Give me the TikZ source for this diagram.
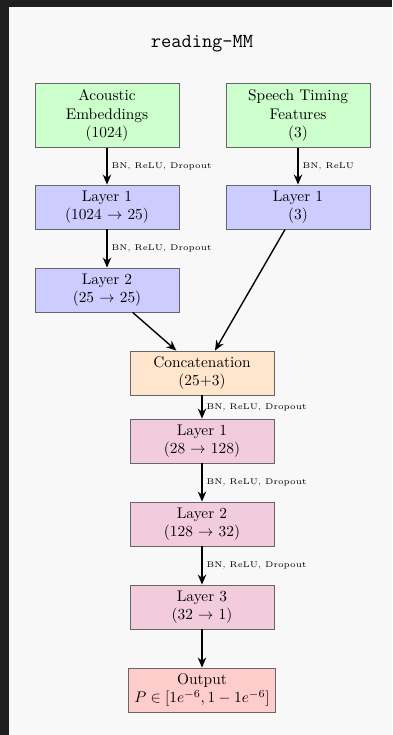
\documentclass[tikz,border=0pt]{standalone}
\usetikzlibrary{arrows.meta}
\definecolor{frame}{HTML}{1E1E1E}
\definecolor{paper}{HTML}{F8F8F8}
\definecolor{cgreen}{HTML}{CCFFCC}
\definecolor{cblue}{HTML}{CCCCFF}
\definecolor{corange}{HTML}{FFE5CC}
\definecolor{cpink}{HTML}{F2CCDD}
\definecolor{cred}{HTML}{FFCCCC}
\tikzset{
  box/.style={draw=black!60, line width=0.6pt, rectangle, align=center,
    minimum width=93.6pt, minimum height=28.6pt, inner xsep=4pt, inner ysep=2pt},
  tallbox/.style={box, minimum height=41pt},
  conn/.style={-{Stealth[length=6.5pt,width=5.5pt]}, line width=0.9pt, black},
  lbl/.style={font=\fontsize{5.4}{6}\selectfont, anchor=west, inner sep=0pt, xshift=2.5pt}
}
\begin{document}
\begin{tikzpicture}[x=0.65pt,y=-0.65pt]
\fill[frame] (0,0) rectangle (392,735);
\fill[paper] (9,7) rectangle (392,735);
\useasboundingbox (0,0) rectangle (392,735);

\node (title) at (202,44) {\fontsize{12.9}{15}\selectfont\ttfamily reading-MM};

\node[tallbox, fill=cgreen] (ac) at (107,115.5) {Acoustic\\Embeddings\\(1024)};
\node[tallbox, fill=cgreen] (st) at (298,115.5) {Speech Timing\\Features\\(3)};
\node[box, fill=cblue] (l1a) at (107,207) {Layer 1\\(1024 $\rightarrow$ 25)};
\node[box, fill=cblue] (l1b) at (298,207) {Layer 1\\(3)};
\node[box, fill=cblue] (l2a) at (107,290) {Layer 2\\(25 $\rightarrow$ 25)};
\node[box, fill=corange] (cc) at (202,373) {Concatenation\\(25+3)};
\node[box, fill=cpink] (m1) at (202,441) {Layer 1\\(28 $\rightarrow$ 128)};
\node[box, fill=cpink] (m2) at (202,524) {Layer 2\\(128 $\rightarrow$ 32)};
\node[box, fill=cpink] (m3) at (202,607) {Layer 3\\(32 $\rightarrow$ 1)};
\node[box, fill=cred] (out) at (202,690) {Output\\$P \in [1e^{-6}, 1-1e^{-6}]$};

\draw[conn] (ac) -- node[lbl] {BN, ReLU, Dropout} (l1a);
\draw[conn] (st) -- node[lbl] {BN, ReLU} (l1b);
\draw[conn] (l1a) -- node[lbl] {BN, ReLU, Dropout} (l2a);
\draw[conn] (l2a) -- (cc);
\draw[conn] (l1b) -- (cc);
\draw[conn] (cc) -- node[lbl] {BN, ReLU, Dropout} (m1);
\draw[conn] (m1) -- node[lbl] {BN, ReLU, Dropout} (m2);
\draw[conn] (m2) -- node[lbl] {BN, ReLU, Dropout} (m3);
\draw[conn] (m3) -- (out);
\end{tikzpicture}
\end{document}
